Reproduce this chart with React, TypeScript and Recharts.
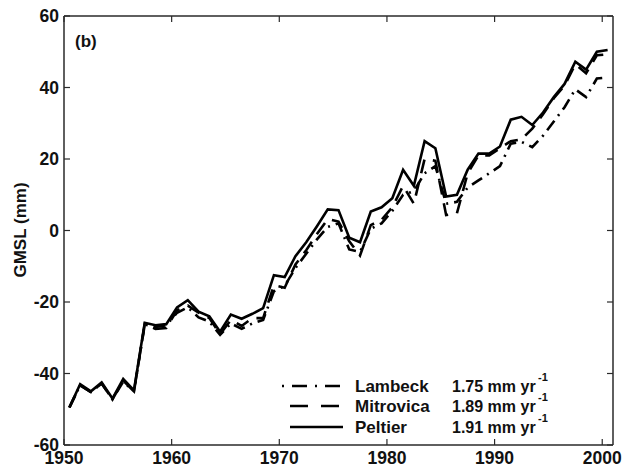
import React from "react";
import { LineChart, Line, XAxis, YAxis } from "recharts";

const years = [
  1950.5, 1951.5, 1952.5, 1953.5, 1954.5, 1955.5, 1956.5, 1957.5, 1958.5, 1959.5,
  1960.5, 1961.5, 1962.5, 1963.5, 1964.5, 1965.5, 1966.5, 1967.5, 1968.5, 1969.5,
  1970.5, 1971.5, 1972.5, 1973.5, 1974.5, 1975.5, 1976.5, 1977.5, 1978.5, 1979.5,
  1980.5, 1981.5, 1982.5, 1983.5, 1984.5, 1985.5, 1986.5, 1987.5, 1988.5, 1989.5,
  1990.5, 1991.5, 1992.5, 1993.5, 1994.5, 1995.5, 1996.5, 1997.5, 1998.5, 1999.5,
  2000.5,
];

const peltier = [
  -49.5, -43, -45, -42.5, -47, -41.5, -44.7, -25.8, -26.5, -26.2,
  -21.5, -19.5, -22.7, -24, -28.3, -23.5, -24.7, -23.3, -21.7, -12.5,
  -13, -7.2, -3.3, 1.2, 5.9, 5.7, -2, -3.3, 5.3, 6.5,
  9, 17, 12.5, 25, 23, 9.5, 10, 17, 21.5, 21.5,
  23.5, 31, 31.8, 29.5, 33, 37.3, 41, 47.2, 45, 50,
  50.5,
];

const mitrovica = [
  -49.5, -43.3, -45.2, -42.8, -47.2, -42, -45, -26.2, -27.5, -27.3,
  -22.3, -21, -23, -24.5, -29, -25, -26.7, -24.5, -24.5, -15.3,
  -16, -9.5, -5.5, -1, 3.2, 2.5, -3, -7, 1.5, 3,
  6.5, 12.5, 7.5, 20, 19.5, 4.3, 4.8, 16, 21, 21,
  23, 25, 25.5, 28.5, 32.5, 37, 40.5, 46.5, 44, 49,
  49.3,
];

const lambeck = [
  -49.5, -43.3, -45.2, -42.8, -47.2, -42.3, -45, -26.3, -27, -26.5,
  -23, -21.5, -24.3, -25.5, -29.2, -26, -27.5, -26, -25, -17,
  -15.5, -10.5, -6.5, -2.5, 1, 2, -5.3, -6, 0.5, 2,
  5.5, 10, 11, 16, 18, 7.5, 8, 12, 14, 16,
  18, 24.3, 24.8, 23.3, 26.5, 30.5, 34.5, 39.5, 37.3, 42.5,
  42.8,
];

const xTicks = [1950, 1960, 1970, 1980, 1990, 2000];
const yTicks = [-60, -40, -20, 0, 20, 40, 60];

const seriesNames = ["Lambeck", "Mitrovica", "Peltier"];
const seriesRates = ["1.75", "1.89", "1.91"];

const data = years.map((yr, i) => ({
  year: yr,
  Lambeck: lambeck[i],
  Mitrovica: mitrovica[i],
  Peltier: peltier[i],
}));

const FONT = "'Liberation Sans', Arial, Helvetica, sans-serif";
const FRAME = "#2a2a2a";
const TICK_LEN = 6;

const BottomTick = (props: any) => {
  const { x, y, payload } = props;
  return (
    <g>
      <line x1={x} x2={x} y1={y} y2={y - TICK_LEN} stroke={FRAME} strokeWidth={1.2} />
      <text x={x} y={y + 19} textAnchor="middle" fontSize={17.5} fontWeight="bold" fontFamily={FONT} fill="#111">
        {payload.value}
      </text>
    </g>
  );
};

const TopTick = (props: any) => {
  const { x, y } = props;
  return <line x1={x} x2={x} y1={y} y2={y + TICK_LEN} stroke={FRAME} strokeWidth={1.2} />;
};

const LeftTick = (props: any) => {
  const { x, y, payload } = props;
  return (
    <g>
      <line x1={x} x2={x + TICK_LEN} y1={y} y2={y} stroke={FRAME} strokeWidth={1.2} />
      <text x={x - 5} y={y + 6} textAnchor="end" fontSize={17.5} fontWeight="bold" fontFamily={FONT} fill="#111">
        {payload.value}
      </text>
    </g>
  );
};

const RightTick = (props: any) => {
  const { x, y } = props;
  return <line x1={x} x2={x - TICK_LEN} y1={y} y2={y} stroke={FRAME} strokeWidth={1.2} />;
};

const dashFor: Record<string, string | undefined> = {
  Lambeck: "12 6 2 6",
  Mitrovica: "14 9",
  Peltier: undefined,
};
const legendDash: Record<string, string | undefined> = {
  Lambeck: "2 8 15 8",
  Mitrovica: "18 13",
  Peltier: undefined,
};

export default function App() {
  const legendRows = [386, 406, 427];
  return (
    <div style={{ position: "absolute", left: 0, top: 0, width: 629, height: 467, background: "#fff" }}>
      <LineChart width={629} height={467} data={data} margin={{ top: 0, right: 0, bottom: 0, left: 0 }}>
        <XAxis
          dataKey="year"
          type="number"
          domain={[1950, 2001]}
          ticks={xTicks}
          allowDataOverflow
          height={22}
          tickSize={0}
          tickMargin={0}
          tickLine={false}
          axisLine={{ stroke: FRAME, strokeWidth: 1.5 }}
          tick={<BottomTick />}
          interval={0}
        />
        <XAxis
          xAxisId="t"
          orientation="top"
          dataKey="year"
          type="number"
          domain={[1950, 2001]}
          ticks={xTicks}
          allowDataOverflow
          height={16}
          tickSize={0}
          tickMargin={0}
          tickLine={false}
          axisLine={{ stroke: FRAME, strokeWidth: 1.5 }}
          tick={<TopTick />}
          interval={0}
        />
        <YAxis
          type="number"
          domain={[-60, 60]}
          ticks={yTicks}
          allowDataOverflow
          width={64}
          tickSize={0}
          tickMargin={0}
          tickLine={false}
          axisLine={{ stroke: FRAME, strokeWidth: 1.5 }}
          tick={<LeftTick />}
          interval={0}
        />
        <YAxis
          yAxisId="r"
          orientation="right"
          type="number"
          domain={[-60, 60]}
          ticks={yTicks}
          allowDataOverflow
          width={16}
          tickSize={0}
          tickMargin={0}
          tickLine={false}
          axisLine={{ stroke: FRAME, strokeWidth: 1.5 }}
          tick={<RightTick />}
          interval={0}
        />
        {seriesNames.map((name) => (
          <Line
            key={name}
            dataKey={name}
            type="linear"
            stroke="#000"
            strokeWidth={2.6}
            strokeDasharray={dashFor[name]}
            dot={false}
            activeDot={false}
            isAnimationActive={false}
          />
        ))}
      </LineChart>
      <svg
        width={629}
        height={467}
        style={{ position: "absolute", left: 0, top: 0, pointerEvents: "none" }}
        fontFamily={FONT}
      >
        <text x={75} y={47} fontSize={17} fontWeight="bold" fill="#111">(b)</text>
        <text
          x={0}
          y={0}
          transform="translate(26,230) rotate(-90)"
          textAnchor="middle"
          fontSize={17}
          fontWeight="bold"
          fill="#111"
        >
          GMSL (mm)
        </text>
        {seriesNames.map((name, i) => (
          <g key={name}>
            <line
              x1={name === "Lambeck" ? 282 : 290}
              x2={343}
              y1={legendRows[i]}
              y2={legendRows[i]}
              stroke="#000"
              strokeWidth={2.6}
              strokeDasharray={legendDash[name]}
            />
            <text x={355} y={legendRows[i] + 6} fontSize={17} fontWeight="bold" fill="#111">
              {name}
            </text>
            <text x={452} y={legendRows[i] + 6} fontSize={16} fontWeight="bold" fill="#111">
              {seriesRates[i] + " mm yr"}
            </text>
            <text x={538} y={legendRows[i] - 5} fontSize={11} fontWeight="bold" fill="#111">
              -1
            </text>
          </g>
        ))}
      </svg>
    </div>
  );
}
